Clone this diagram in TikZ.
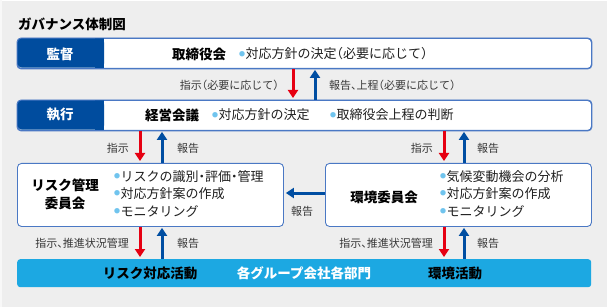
\documentclass[tikz,border=0pt]{standalone}
\usepackage{fontspec}
\setmainfont{Noto Sans CJK JP}[RawFeature={+halt}]
\usetikzlibrary{arrows.meta}
\definecolor{bggray}{RGB}{238,238,238}
\definecolor{govblue}{RGB}{0,76,158}
\definecolor{framblue}{RGB}{74,120,196}
\definecolor{arrred}{RGB}{230,0,18}
\definecolor{arrblue}{RGB}{0,78,162}
\definecolor{barcyan}{RGB}{28,168,226}
\definecolor{dotblue}{RGB}{112,196,238}
\definecolor{lblgray}{RGB}{55,55,55}
\newcommand{\dotb}{\textcolor{dotblue}{\raisebox{0.2em}{\fontsize{6}{6}\selectfont ●}}\hspace{0.5pt}}
\tikzset{
  govbox/.style={draw=framblue, line width=0.9pt, fill=white, rounded corners=4pt},
  headtxt/.style={font=\fontsize{13.5}{16}\selectfont\bfseries, inner sep=0pt},
  bodytxt/.style={font=\fontsize{13}{17.5}\selectfont, inner sep=0pt, align=left, text=black!88},
  lbltxt/.style={font=\fontsize{11}{13}\selectfont, inner sep=0pt, text=lblgray},
  downarr/.style={arrred, line width=3pt, -{Triangle[width=10pt,length=8pt]}, shorten >=2pt},
  uparr/.style={arrblue, line width=3pt, -{Triangle[width=10pt,length=8pt]}, shorten >=1pt},
}
\begin{document}
\begin{tikzpicture}[x=1pt,y=1pt,yscale=-1]
%background
\useasboundingbox (0,0) rectangle (607,307);
\fill[bggray] (0,0) rectangle (607,307);
\draw[white, line width=1pt] (0,0.5) -- (607,0.5);
\draw[white!60!bggray, line width=1.5pt] (0.75,0) -- (0.75,307);
% Title
\node[headtxt, anchor=west] (title) at (18,24) {ガバナンス体制図};

%Box: supervision row
\node[govbox, minimum width=574pt, minimum height=30pt, anchor=north west] (kansa) at (17,38) {};
\fill[govblue, rounded corners=4pt] (17.45,38.45) rectangle (104,67.55);
\fill[govblue] (95,38.45) rectangle (104,67.55);
\draw[framblue, line width=0.9pt, rounded corners=4pt] (kansa.north west) rectangle (kansa.south east);
\node[headtxt, text=white] (kansahd) at (60,54) {監督};
\node[headtxt] (torishimari) at (199,54) {取締役会};
\node[bodytxt, anchor=west] (kansatxt) at (239,54) {\dotb 対応方針の決定（必要に応じて）};

%Box: execution row
\node[govbox, minimum width=574pt, minimum height=30pt, anchor=north west] (shikko) at (17,100) {};
\fill[govblue, rounded corners=4pt] (17.45,100.45) rectangle (104,129.55);
\fill[govblue] (95,100.45) rectangle (104,129.55);
\draw[framblue, line width=0.9pt, rounded corners=4pt] (shikko.north west) rectangle (shikko.south east);
\node[headtxt, text=white] (shikkohd) at (60,115) {執行};
\node[headtxt] (keiei) at (172,115) {経営会議};
\node[bodytxt, anchor=west] (keieitxt1) at (212,115) {\dotb 対応方針の決定};
\node[bodytxt, anchor=west] (keieitxt2) at (330,115) {\dotb 取締役会上程の判断};

%Box: risk committee
\node[govbox, minimum width=266pt, minimum height=63pt, anchor=north west] (risk) at (17,163) {};
\node[headtxt, align=center, font=\fontsize{13.5}{18}\selectfont\bfseries] (riskhd) at (65,194) {リスク管理\\委員会};
\node[bodytxt, anchor=west] (risktxt) at (114,193.5) {\dotb リスクの識別・評価・管理\\\dotb 対応方針案の作成\\\dotb モニタリング};

%Box: environment committee
\node[govbox, minimum width=266pt, minimum height=63pt, anchor=north west] (env) at (325,163) {};
\node[headtxt] (envhd) at (384,197) {環境委員会};
\node[bodytxt, anchor=west] (envtxt) at (440,193.5) {\dotb 気候変動機会の分析\\\dotb 対応方針案の作成\\\dotb モニタリング};

%Bar: group companies
\node[fill=barcyan, rounded corners=3pt, minimum width=574pt, minimum height=28pt, anchor=north west, inner sep=0pt] (bar) at (17,259) {};
\node[headtxt] (riskact) at (150,273) {リスク対応活動};
\node[headtxt, text=white] (group) at (304,273) {各グループ会社各部門};
\node[headtxt] (envact) at (455,273) {環境活動};

%arrow columns
\coordinate (c1) at (293,0);
\coordinate (c2) at (315,0);
\coordinate (c3) at (140,0);
\coordinate (c4) at (162,0);
\coordinate (c5) at (444,0);
\coordinate (c6) at (464,0);
\coordinate (c7) at (0,193);

%Arrows: supervision <-> execution
\draw[downarr] (kansa.south -| c1) -- (shikko.north -| c1);
\draw[uparr] (shikko.north -| c2) -- (kansa.south -| c2);
\node[lbltxt, anchor=east] (l1) at (279,85) {指示（必要に応じて）};
\node[lbltxt, anchor=west] (l2) at (329,85) {報告、上程（必要に応じて）};

%Arrows: execution <-> committees
\draw[downarr] (shikko.south -| c3) -- (risk.north -| c3);
\draw[uparr] (risk.north -| c4) -- (shikko.south -| c4);
\draw[downarr] (shikko.south -| c5) -- (env.north -| c5);
\draw[uparr] (env.north -| c6) -- (shikko.south -| c6);
\node[lbltxt, anchor=east] (l3) at (129,148) {指示};
\node[lbltxt, anchor=west] (l4) at (177,148) {報告};
\node[lbltxt, anchor=east] (l5) at (433,148) {指示};
\node[lbltxt, anchor=west] (l6) at (477,148) {報告};

%Arrow: environment -> risk
\draw[uparr, shorten >=2pt] (env.west |- c7) -- (risk.east |- c7);
\node[lbltxt] (l7) at (302,211) {報告};

%Arrows: committees <-> bar
\draw[downarr] (risk.south -| c3) -- (bar.north -| c3);
\draw[uparr] (bar.north -| c4) -- (risk.south -| c4);
\draw[downarr] (env.south -| c5) -- (bar.north -| c5);
\draw[uparr] (bar.north -| c6) -- (env.south -| c6);
\node[lbltxt, anchor=east] (l8) at (129,243) {指示、推進状況管理};
\node[lbltxt, anchor=west] (l9) at (177,243) {報告};
\node[lbltxt, anchor=east] (l10) at (433,243) {指示、推進状況管理};
\node[lbltxt, anchor=west] (l11) at (477,243) {報告};
\end{tikzpicture}
\end{document}
